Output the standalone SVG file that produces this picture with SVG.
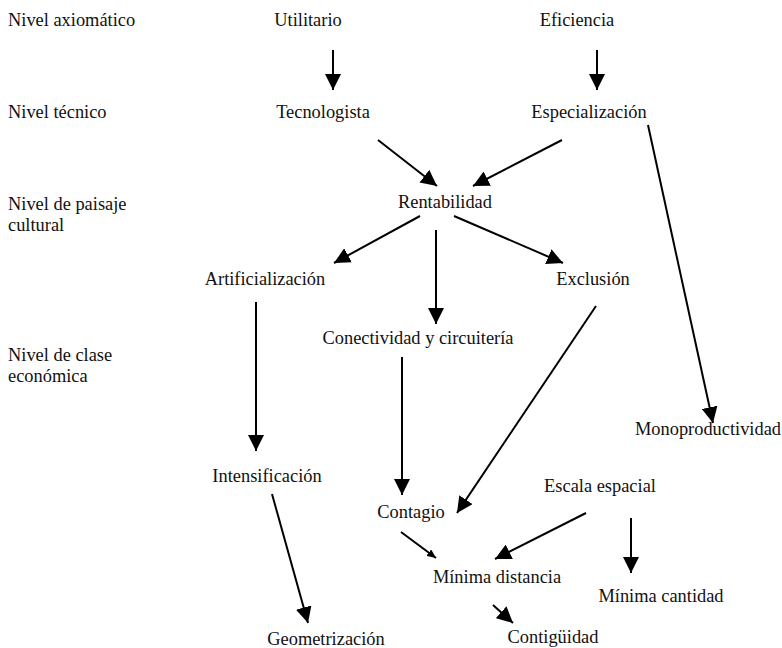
<svg xmlns="http://www.w3.org/2000/svg" width="782" height="648" viewBox="0 0 782 648">
<defs>
<style>
text{font-family:"Liberation Serif","Times New Roman",serif;font-size:18.4px;fill:#111}
.n text{text-anchor:middle}
.c line{stroke:#000;stroke-width:2;fill:none}
</style>
<marker id="ah" markerUnits="userSpaceOnUse" markerWidth="17" markerHeight="16" refX="16" refY="8" orient="auto" viewBox="0 0 17 16">
<path d="M0,0 L16,8 L0,16 z" fill="#000"/>
</marker>
<marker id="ahs" markerUnits="userSpaceOnUse" markerWidth="10" markerHeight="8" refX="9" refY="4" orient="auto" viewBox="0 0 10 8">
<path d="M0,0 L9,4 L0,8 z" fill="#000"/>
</marker>
</defs>
<rect width="782" height="648" fill="#fff"/>
<g id="levels">
<text x="8" y="26">Nivel axiomático</text>
<text x="8" y="118">Nivel técnico</text>
<text x="8" y="210">Nivel de paisaje</text>
<text x="8" y="230.5">cultural</text>
<text x="8" y="361">Nivel de clase</text>
<text x="8" y="381.5">económica</text>
</g>
<g class="n">
<g id="utilitario"><text x="308" y="26">Utilitario</text></g>
<g id="eficiencia"><text x="577" y="26">Eficiencia</text></g>
<g id="tecnologista"><text x="323" y="118">Tecnologista</text></g>
<g id="especializacion"><text x="589" y="118">Especialización</text></g>
<g id="rentabilidad"><text x="445" y="208">Rentabilidad</text></g>
<g id="artificializacion"><text x="265" y="285">Artificialización</text></g>
<g id="exclusion"><text x="593" y="285">Exclusión</text></g>
<g id="conectividad"><text x="418" y="344">Conectividad y circuitería</text></g>
<g id="monoproductividad"><text x="708" y="435">Monoproductividad</text></g>
<g id="intensificacion"><text x="267" y="482">Intensificación</text></g>
<g id="escala"><text x="600" y="492">Escala espacial</text></g>
<g id="contagio"><text x="411" y="518">Contagio</text></g>
<g id="minimadistancia"><text x="497" y="583">Mínima distancia</text></g>
<g id="minimacantidad"><text x="661" y="602">Mínima cantidad</text></g>
<g id="geometrizacion"><text x="326" y="645">Geometrización</text></g>
<g id="contiguidad"><text x="553" y="643">Contigüidad</text></g>
</g>
<g id="connectors" class="c">
<line x1="333" y1="50" x2="333" y2="90" marker-end="url(#ah)"/>
<line x1="597" y1="50" x2="597" y2="90" marker-end="url(#ah)"/>
<line x1="378" y1="140" x2="437" y2="186" marker-end="url(#ah)"/>
<line x1="562" y1="140" x2="473" y2="186" marker-end="url(#ah)"/>
<line x1="648" y1="125" x2="713" y2="423" marker-end="url(#ah)"/>
<line x1="420" y1="216" x2="334" y2="263" marker-end="url(#ah)"/>
<line x1="436" y1="230" x2="436" y2="324" marker-end="url(#ah)"/>
<line x1="454" y1="216" x2="563" y2="263" marker-end="url(#ah)"/>
<line x1="256" y1="302" x2="256" y2="451" marker-end="url(#ah)"/>
<line x1="402" y1="357" x2="402" y2="495" marker-end="url(#ah)"/>
<line x1="596" y1="306" x2="457" y2="513" marker-end="url(#ah)"/>
<line x1="272" y1="494" x2="308" y2="623" marker-end="url(#ah)"/>
<line x1="401" y1="532" x2="436" y2="558" marker-end="url(#ahs)"/>
<line x1="586" y1="513" x2="495" y2="559" marker-end="url(#ah)"/>
<line x1="631" y1="518" x2="631" y2="573" marker-end="url(#ah)"/>
<line x1="493" y1="605" x2="513" y2="623" marker-end="url(#ah)"/>
</g>
</svg>
